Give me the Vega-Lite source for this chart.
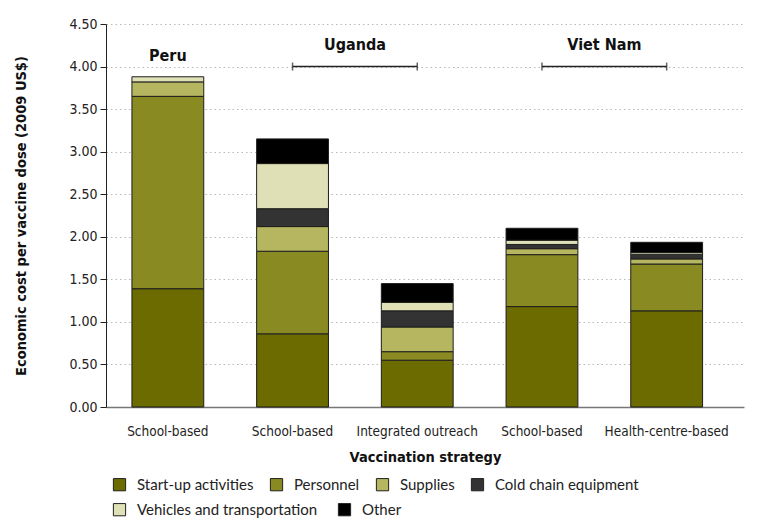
{
  "$schema": "https://vega.github.io/schema/vega-lite/v6.json",
  "width": 638,
  "height": 383,
  "autosize": {"type": "none"},
  "padding": {"left": 106, "top": 24, "right": 27, "bottom": 124},
  "config": {"view": {"stroke": null}, "font": "DejaVu Sans Condensed"},
  "datasets": {
    "costs": [
      {"bar": "Peru|School-based", "component": "Start-up activities", "k": 1, "cost": 1.39},
      {"bar": "Peru|School-based", "component": "Personnel", "k": 2, "cost": 2.26},
      {"bar": "Peru|School-based", "component": "Supplies", "k": 3, "cost": 0.17},
      {"bar": "Peru|School-based", "component": "Vehicles and transportation", "k": 5, "cost": 0.06},
      {"bar": "Uganda|School-based", "component": "Start-up activities", "k": 1, "cost": 0.86},
      {"bar": "Uganda|School-based", "component": "Personnel", "k": 2, "cost": 0.97},
      {"bar": "Uganda|School-based", "component": "Supplies", "k": 3, "cost": 0.29},
      {"bar": "Uganda|School-based", "component": "Cold chain equipment", "k": 4, "cost": 0.21},
      {"bar": "Uganda|School-based", "component": "Vehicles and transportation", "k": 5, "cost": 0.53},
      {"bar": "Uganda|School-based", "component": "Other", "k": 6, "cost": 0.29},
      {"bar": "Uganda|Integrated outreach", "component": "Start-up activities", "k": 1, "cost": 0.55},
      {"bar": "Uganda|Integrated outreach", "component": "Personnel", "k": 2, "cost": 0.10},
      {"bar": "Uganda|Integrated outreach", "component": "Supplies", "k": 3, "cost": 0.29},
      {"bar": "Uganda|Integrated outreach", "component": "Cold chain equipment", "k": 4, "cost": 0.19},
      {"bar": "Uganda|Integrated outreach", "component": "Vehicles and transportation", "k": 5, "cost": 0.10},
      {"bar": "Uganda|Integrated outreach", "component": "Other", "k": 6, "cost": 0.22},
      {"bar": "Viet Nam|School-based", "component": "Start-up activities", "k": 1, "cost": 1.18},
      {"bar": "Viet Nam|School-based", "component": "Personnel", "k": 2, "cost": 0.61},
      {"bar": "Viet Nam|School-based", "component": "Supplies", "k": 3, "cost": 0.07},
      {"bar": "Viet Nam|School-based", "component": "Cold chain equipment", "k": 4, "cost": 0.05},
      {"bar": "Viet Nam|School-based", "component": "Vehicles and transportation", "k": 5, "cost": 0.05},
      {"bar": "Viet Nam|School-based", "component": "Other", "k": 6, "cost": 0.14},
      {"bar": "Viet Nam|Health-centre-based", "component": "Start-up activities", "k": 1, "cost": 1.13},
      {"bar": "Viet Nam|Health-centre-based", "component": "Personnel", "k": 2, "cost": 0.55},
      {"bar": "Viet Nam|Health-centre-based", "component": "Supplies", "k": 3, "cost": 0.06},
      {"bar": "Viet Nam|Health-centre-based", "component": "Cold chain equipment", "k": 4, "cost": 0.055},
      {"bar": "Viet Nam|Health-centre-based", "component": "Vehicles and transportation", "k": 5, "cost": 0.02},
      {"bar": "Viet Nam|Health-centre-based", "component": "Other", "k": 6, "cost": 0.12}
    ],
    "groups": [
      {"country": "Uganda", "from": "Uganda|School-based", "to": "Uganda|Integrated outreach"},
      {"country": "Viet Nam", "from": "Viet Nam|School-based", "to": "Viet Nam|Health-centre-based"}
    ],
    "single": [
      {"country": "Peru", "at": "Peru|School-based"}
    ]
  },
  "layer": [
    {
      "data": {"name": "costs"},
      "transform": [
        {"stack": "cost", "groupby": ["bar"], "sort": [{"field": "k", "order": "ascending"}], "as": ["lo", "hi"]},
        {"filter": {"field": "k", "lte": 4}}
      ],
      "mark": {"type": "bar", "stroke": "#1e1e1e", "strokeWidth": 1},
      "encoding": {
        "x": {
          "field": "bar",
          "type": "nominal",
          "sort": null,
          "scale": {
            "domain": ["Peru|School-based", "Uganda|School-based", "Uganda|Integrated outreach", "Viet Nam|School-based", "Viet Nam|Health-centre-based"],
            "paddingInner": 0.424,
            "paddingOuter": 0.27,
            "align": 0.385
          },
          "axis": {
            "title": "Vaccination strategy",
            "labelExpr": "split(datum.label, '|')[1]",
            "labelAngle": 0,
            "ticks": false,
            "domainColor": "#777777",
            "domainWidth": 1.5,
            "labelFontSize": 13.5,
            "labelColor": "#222222",
            "labelPadding": 17,
            "titleFontSize": 14.5,
            "titleFontWeight": "bold",
            "titleColor": "#111111",
            "titlePadding": 13
          }
        },
        "y": {
          "field": "lo",
          "type": "quantitative",
          "scale": {"domain": [0, 4.5], "nice": false},
          "axis": {
            "title": "Economic cost per vaccine dose (2009 US$)",
            "values": [0, 0.5, 1, 1.5, 2, 2.5, 3, 3.5, 4, 4.5],
            "format": ".2f",
            "tickSize": 6,
            "tickColor": "#222222",
            "domainColor": "#222222",
            "labelFontSize": 14,
            "labelColor": "#222222",
            "labelPadding": 3,
            "gridColor": "#b8b8b8",
            "gridDash": [1.5, 3],
            "titleFontSize": 14.5,
            "titleFontWeight": "bold",
            "titleColor": "#111111",
            "titlePadding": 40
          }
        },
        "y2": {"field": "hi"},
        "color": {
          "field": "component",
          "type": "nominal",
          "scale": {
            "domain": ["Start-up activities", "Personnel", "Supplies", "Cold chain equipment"],
            "range": ["#6b6b00", "#8a8a22", "#b6b660", "#333333"]
          },
          "legend": {
            "orient": "none",
            "legendX": 6,
            "legendY": 453,
            "direction": "horizontal",
            "title": null,
            "symbolType": "square",
            "symbolSize": 150,
            "symbolStrokeColor": "#222222",
            "symbolStrokeWidth": 1,
            "symbolOpacity": 1,
            "labelFont": "Lato",
            "labelFontSize": 15,
            "labelColor": "#222222",
            "labelOffset": 10,
            "labelLimit": 300,
            "columnPadding": 14
          }
        }
      }
    },
    {
      "data": {"name": "costs"},
      "transform": [
        {"stack": "cost", "groupby": ["bar"], "sort": [{"field": "k", "order": "ascending"}], "as": ["lo", "hi"]},
        {"filter": {"field": "k", "gte": 5}}
      ],
      "mark": {"type": "bar", "stroke": "#1e1e1e", "strokeWidth": 1},
      "encoding": {
        "x": {"field": "bar", "type": "nominal"},
        "y": {"field": "lo", "type": "quantitative"},
        "y2": {"field": "hi"},
        "fill": {
          "field": "component",
          "type": "nominal",
          "scale": {
            "domain": ["Vehicles and transportation", "Other"],
            "range": ["#e0e0b6", "#000000"]
          },
          "legend": {
            "orient": "none",
            "legendX": 6,
            "legendY": 478,
            "direction": "horizontal",
            "title": null,
            "symbolType": "square",
            "symbolSize": 150,
            "symbolStrokeColor": "#222222",
            "symbolStrokeWidth": 1,
            "symbolOpacity": 1,
            "labelFont": "Lato",
            "labelFontSize": 15,
            "labelColor": "#222222",
            "labelOffset": 10,
            "labelLimit": 300,
            "columnPadding": 18
          }
        }
      }
    },
    {
      "data": {"name": "groups"},
      "mark": {"type": "rule", "color": "#222222", "strokeWidth": 1.5},
      "encoding": {
        "x": {"field": "from", "type": "nominal"},
        "x2": {"field": "to"},
        "y": {"datum": 4}
      }
    },
    {
      "data": {"name": "groups"},
      "transform": [{"fold": ["from", "to"], "as": ["side", "end"]}],
      "mark": {"type": "tick", "orient": "vertical", "color": "#222222", "size": 8, "thickness": 1.5},
      "encoding": {
        "x": {"field": "end", "type": "nominal"},
        "y": {"datum": 4}
      }
    },
    {
      "data": {"name": "groups"},
      "mark": {"type": "text", "fontSize": 16, "fontWeight": "bold", "color": "#111111", "baseline": "alphabetic", "align": "center"},
      "encoding": {
        "x": {"field": "from", "type": "nominal", "bandPosition": 1.369},
        "y": {"datum": 4.19},
        "text": {"field": "country"}
      }
    },
    {
      "data": {"name": "single"},
      "mark": {"type": "text", "fontSize": 16, "fontWeight": "bold", "color": "#111111", "baseline": "alphabetic", "align": "center"},
      "encoding": {
        "x": {"field": "at", "type": "nominal"},
        "y": {"datum": 4.07},
        "text": {"field": "country"}
      }
    }
  ]
}
